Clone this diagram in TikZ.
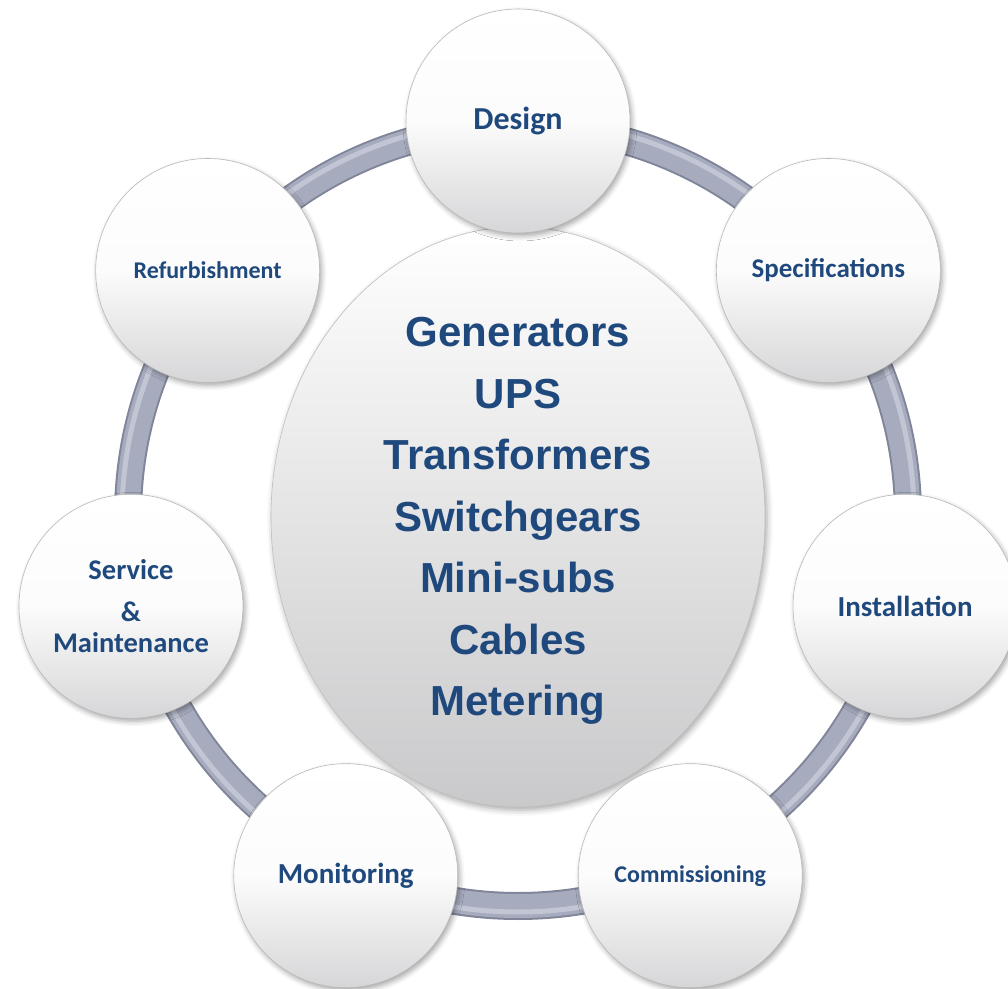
\documentclass[tikz,border=0pt]{standalone}
\usepackage{fontspec}
\setmainfont{Liberation Sans}
\newfontfamily\calib{Carlito}
\usetikzlibrary{shapes.geometric,shadows.blur}
\definecolor{txtblue}{RGB}{31,73,125}
\definecolor{ringedge}{RGB}{128,133,153}
\definecolor{ringmid}{RGB}{166,171,190}
\definecolor{ringlight}{RGB}{200,204,218}
\definecolor{ballbot}{RGB}{214,214,216}
\tikzset{
  ball/.style={circle, minimum size=224pt, inner sep=0pt, draw=gray!55, line width=0.6pt,
    top color=white, bottom color=ballbot, middle color=white!92!ballbot,
    blur shadow={shadow xshift=2pt, shadow yshift=-3pt, shadow blur radius=5pt, shadow opacity=35},
    text=txtblue, align=center},
  lbl/.style={font=\calib\bfseries\fontsize{#1}{34}\selectfont},
  hub/.style={ellipse, minimum width=494pt, minimum height=580pt, inner sep=0pt,
    draw=gray!50, line width=0.6pt, top color=white, bottom color=ballbot!94!black,
    blur shadow={shadow xshift=2pt, shadow yshift=-3pt, shadow blur radius=6pt, shadow opacity=35}},
  hubtext/.style={text=txtblue, font=\bfseries\fontsize{42}{61.5}\selectfont, align=center},
  ringouter/.style={draw=ringedge, line width=28pt},
  ringmiddle/.style={draw=ringmid, line width=24pt},
  ringhigh/.style={draw=ringlight, line width=5pt, opacity=0.8}
}
\begin{document}
\begin{tikzpicture}[x=1pt,y=1pt]
\useasboundingbox (0,0) rectangle (1008,988);
\coordinate (rc) at (518,472);
\coordinate (c) at (518,470);
\draw[ringouter] (rc) circle[radius=390pt];
\draw[ringmiddle] (rc) circle[radius=390pt];
\draw[ringhigh] (rc) circle[radius=396pt];
\node[hub] (hub) at (518,471) {};
\node[hubtext] (hubtxt) at (518,467) {Generators\\UPS\\Transformers\\Switchgears\\Mini-subs\\Cables\\Metering};
\begin{scope}[shift={(c)}]
\node[ball, lbl=32] (design) at (90:397pt) {Design};
\node[ball, lbl=27] (spec) at (38.571:397pt) {Specifications};
\node[ball, lbl=29] (inst) at (-12.857:397pt) {Installation};
\node[ball, lbl=24] (comm) at (-64.286:397pt) {Commissioning};
\node[ball, lbl=29] (mon) at (-115.714:397pt) {Monitoring};
\node[ball, lbl=28.5] (serv) at (-167.143:397pt) {Service\\[8pt]\&\\[-3pt]Maintenance};
\node[ball, lbl=24] (refurb) at (141.429:397pt) {Refurbishment};
\end{scope}
\end{tikzpicture}
\end{document}
